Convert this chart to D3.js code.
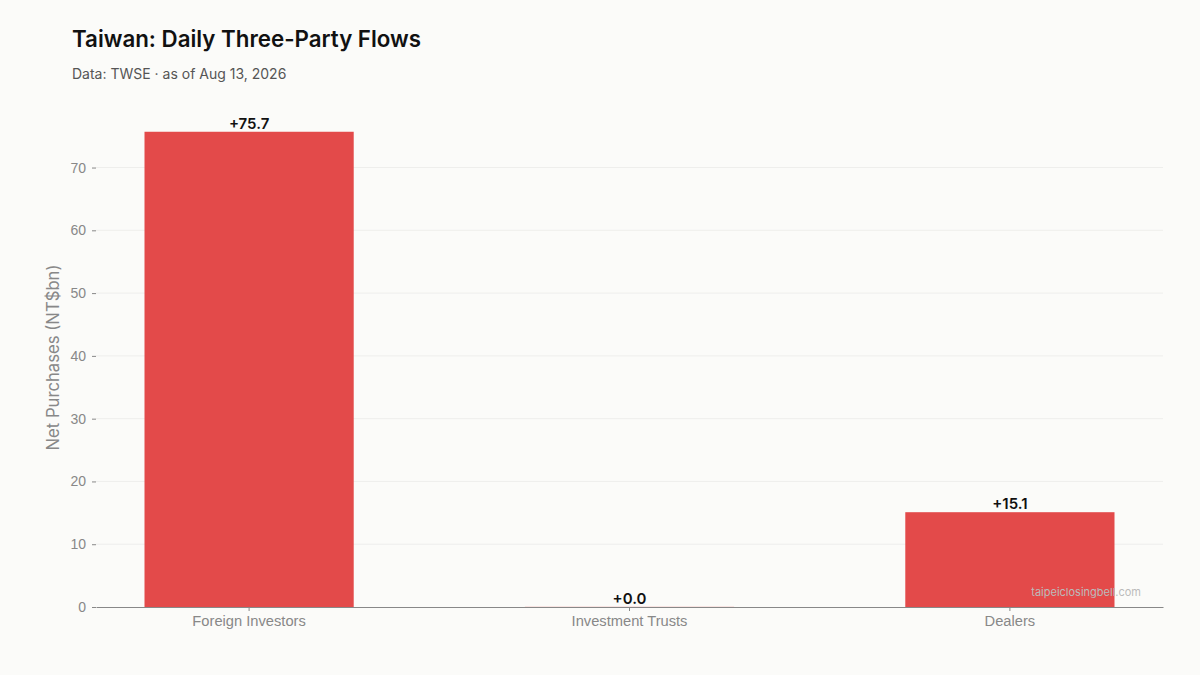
<!DOCTYPE html>
<meta charset="UTF-8">
<head>
<title>Taiwan: Daily Three-Party Flows</title>
<style>
body { margin: 0; background: #fbfbf9; }
svg { display: block; font-family: Inter, "Noto Sans", sans-serif; }
.tick text { fill: #888; font-size: 14px; }
.x-axis .tick text { font-size: 14.7px; }
</style>
</head>
<body>
<script src="https://d3js.org/d3.v7.min.js"></script>
<script>

var categories = ["Foreign Investors", "Investment Trusts", "Dealers"];
var netBuy = [75.7, 0.02, 15.1];
var valueLabels = ["+75.7", "+0.0", "+15.1"];
var yTicks = [0, 10, 20, 30, 40, 50, 60, 70];

var width = 1200, height = 675;
var margin = {top: 108, right: 37, bottom: 68, left: 96};
var plotW = width - margin.left - margin.right,
    plotH = height - margin.top - margin.bottom;

var svg = d3.select("body").append("svg")
    .attr("width", width)
    .attr("height", height);

svg.append("rect").attr("width", width).attr("height", height).attr("fill", "#fbfbf9");

svg.append("text")
    .attr("x", 72).attr("y", 47)
    .attr("font-size", 22.3).attr("font-weight", 600).attr("fill", "#111")
    .text("Taiwan: Daily Three-Party Flows");

svg.append("text")
    .attr("x", 72).attr("y", 79)
    .attr("font-size", 14).attr("fill", "#555")
    .text("Data: TWSE \u00b7 as of Aug 13, 2026");

var g = svg.append("g")
    .attr("transform", "translate(" + margin.left + "," + margin.top + ")");

// bar width 0.55 with matplotlib style margins
var x = d3.scaleBand()
    .domain(categories)
    .range([0, plotW])
    .paddingInner(0.45)
    .paddingOuter(0.1275);

var y = d3.scaleLinear()
    .domain([0, 75.7 * 1.05])
    .range([plotH, 0]);

// grid
g.selectAll("line.grid")
    .data(yTicks.filter(function(d) { return d > 0; }))
  .enter().append("line")
    .attr("class", "grid")
    .attr("x1", 0).attr("x2", plotW)
    .attr("y1", function(d) { return y(d); })
    .attr("y2", function(d) { return y(d); })
    .attr("stroke", "#eeeeec").attr("stroke-width", 1);

// bars
g.selectAll("rect.bar")
    .data(netBuy)
  .enter().append("rect")
    .attr("class", "bar")
    .attr("x", function(d, i) { return x(categories[i]); })
    .attr("width", x.bandwidth())
    .attr("y", function(d) { return y(d); })
    .attr("height", function(d) { return Math.max(1, y(0) - y(d)); })
    .attr("fill", "#e34a4a");

// value labels
g.selectAll("text.val")
    .data(netBuy)
  .enter().append("text")
    .attr("class", "val")
    .attr("x", function(d, i) { return x(categories[i]) + x.bandwidth() / 2; })
    .attr("y", function(d) { return y(d) - 3; })
    .attr("text-anchor", "middle")
    .attr("font-size", 15).attr("font-weight", 600).attr("fill", "#111")
    .text(function(d, i) { return valueLabels[i]; });

// y axis
var yAxis = g.append("g")
    .call(d3.axisLeft(y).tickValues(yTicks).tickSize(4).tickPadding(6));
yAxis.select(".domain").remove();
yAxis.selectAll(".tick line").attr("stroke", "#888");

// x axis
var xAxis = g.append("g")
    .attr("class", "x-axis")
    .attr("transform", "translate(0," + plotH + ")")
    .call(d3.axisBottom(x).tickSize(4).tickPadding(5).tickSizeOuter(0));
xAxis.select(".domain").attr("stroke", "#888").attr("stroke-width", 1.2);
xAxis.selectAll(".tick line").attr("stroke", "#888");

svg.append("text")
    .attr("transform", "translate(59," + (margin.top + plotH / 2) + ") rotate(-90)")
    .attr("text-anchor", "middle")
    .attr("font-size", 16.7).attr("fill", "#888")
    .text("Net Purchases (NT$bn)");

svg.append("text")
    .attr("x", 1141).attr("y", 596)
    .attr("text-anchor", "end")
    .attr("font-size", 11).attr("fill", "#bbb")
    .text("taipeiclosingbell.com");

</script>
</body>
</html>
